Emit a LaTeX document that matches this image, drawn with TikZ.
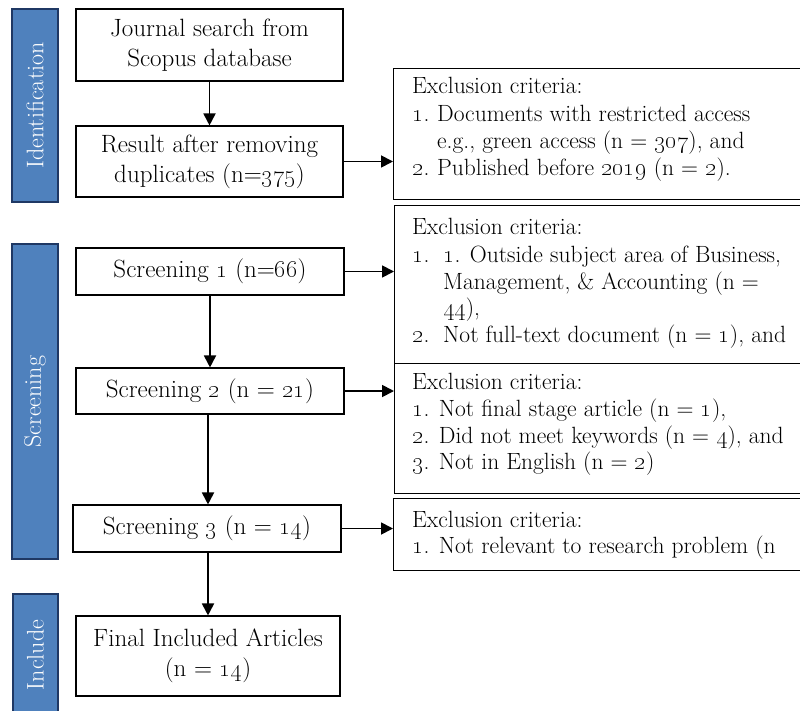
\documentclass[tikz,border=0pt]{standalone}
\usetikzlibrary{arrows.meta}
\definecolor{barfill}{RGB}{79,129,189}
\definecolor{barline}{RGB}{31,56,100}
\newcommand\os[1]{\oldstylenums{#1}}
\begin{document}
\begin{tikzpicture}[x=1pt,y=-1pt,
  bar/.style={rotate=90,fill=barfill,draw=barline,line width=2pt,text=white,font=\fontsize{24}{28}\selectfont,inner sep=0pt},
  flowbox/.style={draw,line width=1.1pt,align=center,font=\fontsize{25}{30}\selectfont,inner sep=0pt},
  exbox/.style={draw,line width=1.1pt,anchor=north west,minimum width=420pt,inner sep=0pt},
  ln/.style={anchor=base west,inner sep=0pt,font=\fontsize{23.5}{27}\selectfont},
  arr/.style={line width=1.8pt,-{Triangle[length=12pt,width=12pt]}}]
\useasboundingbox (0,0) rectangle (800,711);
% stage bars
\node[bar,minimum width=193pt,minimum height=46pt] (bid) at (35,105.5) {Identification};
\node[bar,minimum width=315pt,minimum height=46pt] (bsc) at (35,401.5) {Screening};
\node[bar,minimum width=122pt,minimum height=45pt] (bin) at (35.5,655) {Include};
% flow boxes
\node[flowbox,minimum width=267pt,minimum height=72pt] (b1) at (209.5,45) {Journal search from\\Scopus database};
\node[flowbox,minimum width=267pt,minimum height=71pt] (b2) at (209.5,161.5) {Result after removing\\duplicates (n=\os{375})};
\node[flowbox,minimum width=268pt,minimum height=47pt] (s1) at (210,271.5) {Screening \os{1} (n=\os{66})};
\node[flowbox,minimum width=268pt,minimum height=46pt] (s2) at (210,391) {Screening \os{2} (n = \os{21})};
\node[flowbox,minimum width=268pt,minimum height=47pt] (s3) at (207,528.5) {Screening \os{3} (n = \os{14})};
\node[flowbox,minimum width=264pt,minimum height=80pt] (fin) at (208,656) {Final Included Articles\\(n = \os{14})};
% exclusion boxes
\node[exbox,minimum height=131pt] (e1) at (393,68) {};
\node[exbox,minimum height=158pt] (e2) at (394,205) {};
\node[exbox,minimum height=130pt] (e3) at (394,363) {};
\node[exbox,minimum height=72pt] (e4) at (393,498) {};
% exclusion texts
\node[ln] at (412,94) {Exclusion criteria:};
\node[ln] at (412,122) {\os{1}.};
\node[ln] at (437,122) {Documents with restricted access};
\node[ln] at (437,149) {e.g., green access (n = \os{307}), and};
\node[ln] at (412,176) {\os{2}.};
\node[ln] at (437,176) {Published before \os{2019} (n = \os{2}).};
\node[ln] at (412,235) {Exclusion criteria:};
\node[ln] at (412,263) {\os{1}.};
\node[ln] at (443,263) {\os{1}. Outside subject area of Business,};
\node[ln] at (443,289) {Management, \& Accounting (n =};
\node[ln] at (443,315) {\os{44}),};
\node[ln] at (412,342) {\os{2}.};
\node[ln] at (443,342) {Not full-text document (n = \os{1}), and};
\node[ln] at (412,389) {Exclusion criteria:};
\node[ln] at (412,416) {\os{1}. Not final stage article (n = \os{1}),};
\node[ln] at (412,443) {\os{2}. Did not meet keywords (n = \os{4}), and};
\node[ln] at (412,469) {\os{3}. Not in English (n = \os{2})};
\node[ln] at (412,527) {Exclusion criteria:};
\node[ln] at (412,553) {\os{1}. Not relevant to research problem (n};
% connectors
\draw[arr] (b1.south) -- (b2.north);
\draw[arr] (s1.south) -- (s1.south |- s2.north);
\draw[arr] (s2.south -| fin.north) -- (s3.north -| fin.north);
\draw[arr] (s3.south -| fin.north) -- (fin.north);
\draw[arr] (b2.east) -- (b2.east -| e1.west);
\draw[arr] (s1.east) -- (s1.east -| e2.west);
\draw[arr] (s2.east) -- (s2.east -| e3.west);
\draw[arr] (s3.east) -- (s3.east -| e4.west);
\end{tikzpicture}
\end{document}
